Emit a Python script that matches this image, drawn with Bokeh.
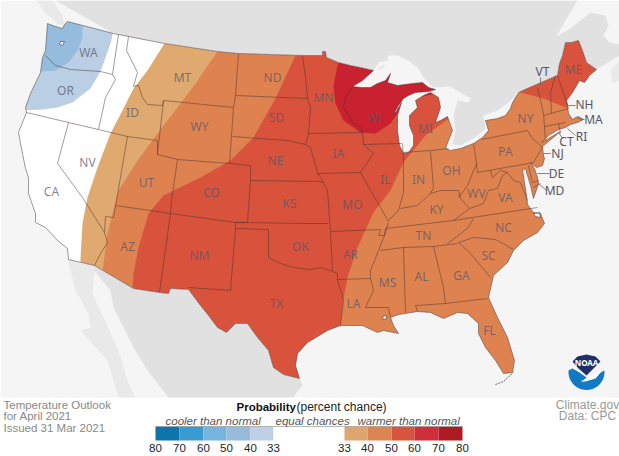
import numpy as np
from bokeh.plotting import figure
from bokeh.embed import file_html
from bokeh.resources import INLINE
from bokeh.models import Range1d
from bokeh.core.properties import value

# ---- map geometry, in map units of the picture (x right, y down) ----
us_north = [(47,23),(55,26),(62,28),(64,24),(67,21),(113,33),(118,34),(128,36),(164,43),(217,51),(238,53),
            (302,55),(322,55),(322,51),(325,51),(326,57),(338,62),(350,65),(360,67),(373,70)]
us_lakes = [(362,80),(352,86),(361,87),(370,87),(377,83),(385,80),(390,73),(387,82),(397,85),(412,83),(422,82),
            (428,87),(435,89),(428,91),(415,92),(408,95),(403,98),(398,105),(393,113),(396,111),(401,102),
            (397,115),(397,130),(399,145),(403,153),(408,152),(413,145),(413,135),(409,125),(409,115),(417,107),
            (415,100),(423,95),(430,92),(438,97),(440,107),(435,122),(440,120),(447,116),(452,130),(448,140),
            (445,148),(450,150),(460,148),(473,143),(482,137),(488,130),(485,120),(497,118),(505,115),(510,108),
            (512,102),(518,92)]
us_ne = [(529,87),(552,77),(557,75),(559,63),(562,55),(565,42),(571,42),(578,40),(582,50),(586,62),(596,69)]
us_atlantic = [(589,75),(584,82),(579,80),(572,92),(566,100),(567,105),(568,113),(572,119),(575,117),(578,116),
               (583,119),(577,122),(570,124),(565,127),(558,129),(548,135),(541,142),(548,138),(560,131),(548,141),
               (542,146),(543,155),(544,158),(542,165),(536,167),(530,162),(534,168),(537,177),(538,183),(533,198),
               (530,185),(527,175),(525,168),(522,170),(524,182),(526,195),(527,204),(533,212),(540,213),(544,223),
               (537,232),(523,240),(513,250),(507,262),(493,275),(488,297),(497,317),(507,337),(514,360),(512,372)]
us_gulf = [(503,373),(495,360),(485,347),(478,333),(478,323),(467,313),(457,312),(443,318),(430,312),(417,311),
           (405,313),(398,314),(390,317),(393,325),(398,333),(383,330),(377,332),(362,325),(340,325),(327,330),
           (307,342),(297,353),(295,365)]
us_mexico = [(299,378),(283,374),(273,367),(268,350),(257,337),(247,323),(235,323),(226,332),(217,327),(208,315),
             (200,305),(188,289),(170,288),(168,293),(159,292),(133,288),(94,265)]
us_pacific = [(68,259),(67,248),(57,240),(45,227),(35,222),(35,213),(28,193),(28,177),(25,168),(20,143),(18,132),
              (26,112),(25,107),(30,93),(40,72),(42,57),(45,50)]
canada_top = [(55,0),(577,0),(565,20),(556,36),(570,28),(590,12),(605,15),(608,25),(603,35),(609,42),(619,44),(619,55)]
canada_shore = [(516,92),(513,97),(508,102),(497,110),(483,115),(485,128),(483,130),(473,138),(460,145),(450,143),
                (452,143),(455,130),(453,115),(457,100),(468,102),(470,98),(460,92),(450,86),(433,87),(423,77),
                (418,68),(408,60),(397,55),(388,55),(387,60),(378,62)]
nova_scotia = [(619,60),(610,70),(612,83),(619,80)]
vancouver = [(36,0),(52,0),(62,15),(64,24),(58,24),(44,12)]
isle_royale = [(378,68),(384,64),(384,65.5),(379,69.5)]
baja = [(68,259),(94,265),(94,270),(92,293),(103,317),(118,350),(128,383),(135,397),(118,397),(107,360),(80,330),
        (90,327),(88,313),(75,290),(68,262)]
mexico_rest = [(94,270),(100,278),(110,290),(113,307),(133,347),(147,370),(168,397),(293,397),(296,392),(302,385)]
waters = [[(60,41),(59,44),(62,45),(64,41)], [(533,213),(539,212),(540,217),(535,216)], [(382,316),(386,315),(386,318),(383,319)]]

band_blue_33 = [(113,30),(110,43),(105,57),(100,71),(90,88),(72,102),(57,107),(43,109),(15,110),(15,15),(113,15)]
band_blue_40 = [(82,15),(82,25),(82,37),(77,50),(68,62),(55,70),(42,71),(15,71),(15,15)]
band_warm_33 = [(164,30),(164,43),(147,70),(133,88),(122,110),(110,133),(97,167),(87,197),(82,223),(80,258),(80,290),
                (135,395),(600,395),(600,30)]
band_warm_40 = [(217,40),(217,51),(195,83),(180,103),(163,125),(137,160),(118,190),(107,233),(103,263),(100,290),
                (135,395),(600,395),(600,40)]
band_warm_50 = [(295,40),(295,55),(275,98),(253,137),(230,160),(200,177),(173,190),(163,195),(148,213),(138,247),
                (133,273),(132,288),(130,395),(336,395),(338,335),(340,325),(342,303),(347,277),(357,247),(373,212),
                (390,190),(403,162),(425,135),(450,117),(470,100),(470,40)]
band_warm_50b = [(510,86),(520,92),(543,98),(568,108),(600,112),(600,30),(510,30)]
band_warm_60 = [(345,50),(337,65),(333,85),(335,103),(343,120),(360,132),(375,133),(390,123),(397,113),(405,100),
                (440,92),(440,50)]

borders = [
 [(45,55),(55,65),(70,69),(100,71),(112,74)],
 [(118,34),(112,74),(115,79),(105,97),(98,129)],
 [(26,112),(68,122),(98,129),(127,136),(157,140)],
 [(68,122),(57,163),(82,197),(104,232)],
 [(127,136),(116,200),(115,205)],
 [(115,205),(113,217),(105,216),(104,232),(107,242),(99,255),(94,265)],
 [(115,205),(170,213),(235,222),(310,223),(328,223)],
 [(157,140),(157,154),(177,159),(171,200),(170,213)],
 [(157,154),(163,100),(233,107),(229,163),(177,159)],
 [(128,36),(126,50),(137,72),(133,86),(138,85),(142,97),(147,104),(162,105),(163,100)],
 [(238,53),(235,95),(233,107)],
 [(235,95),(307,98)],
 [(232,136),(287,140),(305,144),(310,147),(317,172),(323,182),(327,190),(330,231),(332,270)],
 [(229,163),(250,165),(250,180),(247,222),(235,222),(235,228),(230,290),(188,287)],
 [(250,180),(319,181),(323,182)],
 [(170,213),(159,292)],
 [(235,228),(268,229),(268,257),(280,263),(293,267),(310,269),(320,267),(330,270),(337,273),(337,279),(343,300),(340,325)],
 [(330,231),(380,229),(378,235),(384,235),(388,222)],
 [(337,279),(370,278)],
 [(384,235),(378,250),(370,270),(370,278),(373,290),(365,307),(388,307),(390,317)],
 [(380,250),(403,247),(433,246),(457,243)],
 [(403,247),(405,312)],
 [(433,246),(443,287),(445,303)],
 [(415,305),(445,303),(487,298)],
 [(415,305),(417,311)],
 [(458,242),(473,237),(495,239),(513,249)],
 [(458,242),(470,253),(490,277)],
 [(385,228),(453,220),(537,207)],
 [(473,218),(467,228),(447,243)],
 [(384,235),(385,228)],
 [(302,55),(305,77),(307,98),(310,107),(308,133),(305,144)],
 [(308,133),(362,132),(360,127),(352,122),(343,107),(345,97),(352,86)],
 [(317,173),(360,172),(365,165),(373,153),(363,144),(362,132)],
 [(363,144),(401,143)],
 [(360,172),(370,190),(380,207),(388,221)],
 [(402,143),(403,160),(403,192),(398,210),(388,220)],
 [(400,208),(417,205),(430,193),(440,190),(458,190),(460,198),(469,208),(453,220)],
 [(430,151),(433,187),(430,193)],
 [(403,152),(430,150),(448,148)],
 [(473,143),(476,163),(467,185),(458,197)],
 [(481,139),(527,130),(532,138),(542,147),(540,150),(533,162),(528,163),(477,172),(476,163)],
 [(537,87),(543,113),(545,140)],
 [(555,75),(550,92),(551,113)],
 [(557,75),(568,107)],
 [(543,115),(568,108)],
 [(544,126),(565,122)],
 [(558,123),(560,133)],
 [(490,170),(492,177),(500,170),(507,172),(513,180),(520,182),(527,200)],
 [(469,208),(483,203),(488,190),(497,188),(502,175),(507,172)],
 [(528,165),(532,182),(538,180)],
 [(533,187),(540,183)],
 [(393,113),(398,107)],
]
leaders = [[(568,105),(575,105)],[(577,118),(584,119)],[(567,128),(575,135)],[(558,132),(562,138)],
           [(543,153),(550,153)],[(537,173),(549,173)],[(538,183),(546,190)],[(540,77),(540,85)]]
keys_line = [(495,384),(503,381),(513,372)]

state_names = ["WA","OR","CA","NV","ID","MT","WY","UT","AZ","CO","NM","ND","SD","NE","KS","OK","TX","MN","IA","MO",
               "AR","LA","WI","IL","MI","IN","OH","KY","TN","MS","AL","GA","FL","SC","NC","VA","WV","PA","NY",
               "ME"]
state_x = [88,65,51,87,132,182,199,146,127,211,199,272,276,275,289,300,276,323,338,352,350,353,375,385,425,418,451,436,423,387,421,461,489,488,503,505,476,505,525,573]
state_y = [52,90,191,162,112,77,126,182,246,192,255,77,117,160,203,246,303,97,153,204,254,303,117,179,128,179,170,209,235,282,276,275,330,255,227,197,193,151,118,69]
side_names = ["VT","NH","MA","RI","CT","NJ","DE","MD"]
side_x = [542,584,593,581,566,557,556,554]
side_y = [71,104,119,136,141,153,173,190]

legend_labels = ["80","70","60","50","40","33","33","40","50","60","70","80"]
legend_x = [155,179,203,226,250,273,344,367,391,414,438,462]
legend_colors = ["#0d75ab","#3a9ad2","#75b4df","#98bbdb","#bdd0e6","#ffffff","#dea56e","#dd8452","#d9543c","#ce2f3a","#b01a22"]

OCEAN = "#f5f5f6"
GRAY = "#e1e1e2"
LIGHT = "#e9e9ea"

def xs(pts): return [float(a) for a, b in pts]
def ys(pts): return [float(b) for a, b in pts]

p = figure(width=619, height=456, x_range=Range1d(0, 619), y_range=Range1d(456, 0),
           output_backend="svg", toolbar_location=None, min_border=0,
           styles={"position": "absolute", "left": "0px", "top": "0px"})
p.axis.visible = False
p.grid.visible = False
p.outline_line_color = None
p.background_fill_color = "#ffffff"
p.border_fill_color = "#ffffff"

# warm and cool bands, painted wide; the outside of the country is then covered
bands = [(band_blue_33, "#bacee4"), (band_blue_40, "#95bcdc"), (band_warm_33, "#dfa970"), (band_warm_40, "#de8350"),
         (band_warm_50, "#d9533c"), (band_warm_50b, "#d9533c"), (band_warm_60, "#c9212f")]
for pts, col in bands:
    p.patch(xs(pts), ys(pts), fill_color=col, line_color=None)

us_outline = us_north + us_lakes + us_ne + us_atlantic + us_gulf + us_mexico + us_pacific
panel = [(0,0),(619,0),(619,397),(0,397)]
p.multi_polygons(xs=[[[xs(panel), xs(us_outline)]]], ys=[[[ys(panel), ys(us_outline)]]],
                 fill_color=OCEAN, line_color=None)

canada = canada_top + us_ne[::-1] + canada_shore + us_north[:4:-1]
mexico = us_mexico + mexico_rest
for pts, col in [(canada, GRAY), (mexico, GRAY), (baja, LIGHT), (vancouver, LIGHT), (nova_scotia, LIGHT), (isle_royale, GRAY)]:
    p.patch(xs(pts), ys(pts), fill_color=col, line_color=None)

for pts in waters:
    p.patch(xs(pts), ys(pts), fill_color=OCEAN, line_color="#4a3a3a", line_width=0.6)

closed = us_outline + us_outline[:1]
p.line(xs(closed), ys(closed), line_color="#4a3c3c", line_alpha=0.65, line_width=0.8)
p.multi_line([xs(b) for b in borders], [ys(b) for b in borders], line_color="#4a3030", line_alpha=0.62, line_width=0.8)
p.multi_line([xs(b) for b in leaders], [ys(b) for b in leaders], line_color="#666670", line_width=0.8)
p.line(xs(keys_line), ys(keys_line), line_color="#444444", line_width=0.8, line_dash="2 1")

FONT = value("Noto Sans")
SMALL = value("Liberation Sans")
p.text(state_x, state_y, text=state_names, text_font=FONT, text_font_size="12px", text_color="#52566a",
       text_alpha=0.72, text_align="center", text_baseline="middle")
p.text(side_x, side_y, text=side_names, text_font=FONT, text_font_size="12px", text_color="#555566",
       text_align="center", text_baseline="middle")

# NOAA mark
ang = np.radians(np.linspace(-5, 185, 40))
arc_x = 586 + 18 * np.cos(ang)
arc_y = 371.5 + 18 * np.sin(ang)
inner = [(572,368),(579,372),(586,377),(582,381),(590,378),(600,372)]
p.patch(list(arc_x) + xs(inner), list(arc_y) + ys(inner), fill_color="#1279c4", line_color=None)
swoosh = [(580,381),(590,376),(601,371),(595,378),(585,381)]
p.patch(xs(swoosh), ys(swoosh), fill_color="#ffffff", line_color=None)
navy = [(586,354),(595,356),(600,361),(593,368),(586,375),(578,368),(572,361),(577,356)]
p.patch(xs(navy), ys(navy), fill_color="#1f2f6e", line_color=None)
p.text([586], [362], text=["NOAA"], text_font=FONT, text_font_style="bold", text_font_size="8px",
       text_color="#ffffff", text_align="center", text_baseline="middle")

# legend
bar_left = legend_x[:-1]
bar_right = legend_x[1:]
p.quad(left=bar_left, right=bar_right, top=[426]*11, bottom=[440]*11, fill_color=legend_colors, line_color=None)
p.line([155, 462], [426, 426], line_color="#999999", line_width=1, line_alpha=0.7)
p.text(legend_x, [447.5]*12, text=legend_labels, text_font=SMALL, text_font_size="11.5px", text_color="#222222",
       text_align="center", text_baseline="middle")

p.text([236], [406], text=["Probability"], text_font=SMALL, text_font_style="bold", text_font_size="11.5px",
       text_color="#111111", text_baseline="middle")
p.text([296], [406], text=["(percent chance)"], text_font=SMALL, text_font_size="12px",
       text_color="#222222", text_baseline="middle")
p.text([165, 275, 357], [420]*3, text=["cooler than normal", "equal chances", "warmer than normal"], text_font=SMALL,
       text_font_style="italic", text_font_size="11.5px", text_color="#555555", text_baseline="middle")
p.text([3, 3, 3], [404, 415, 427], text=["Temperature Outlook", "for April 2021", "Issued 31 Mar 2021"], text_font=SMALL,
       text_font_size="11.5px", text_color="#888888", text_baseline="middle")
p.text([587, 587], [404, 415], text=["Climate.gov", "Data: CPC"], text_font=SMALL, text_font_size="12px",
       text_color="#999999", text_align="center", text_baseline="middle")

open("out.html", "w").write(file_html(p, INLINE))
